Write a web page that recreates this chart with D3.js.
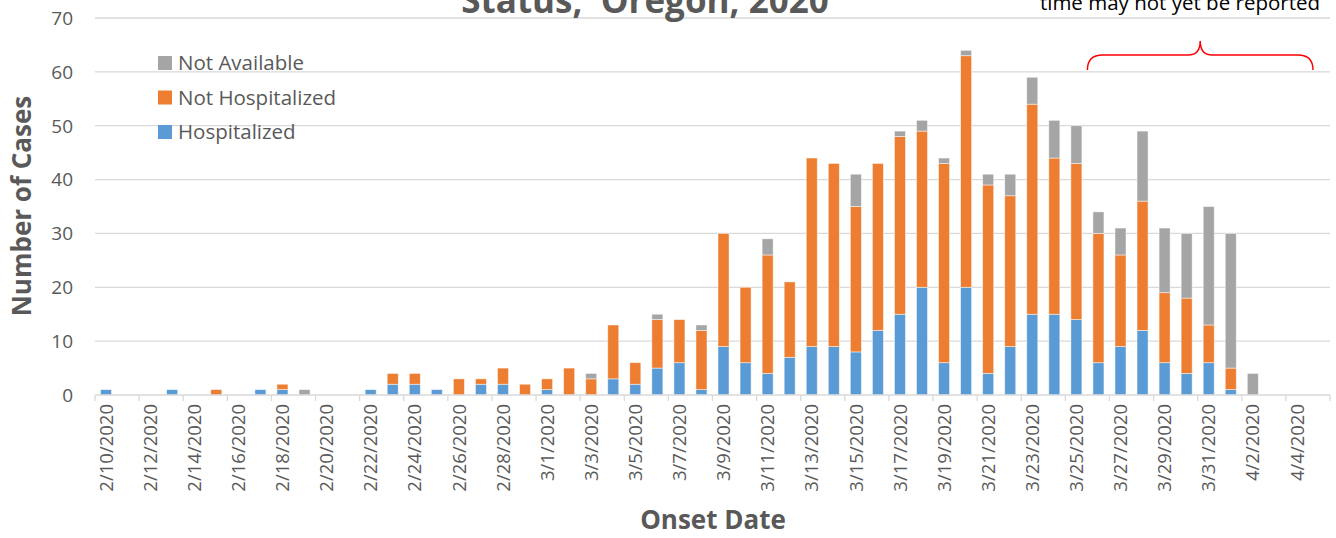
<!DOCTYPE html>
<html>
<head>
<meta charset="utf-8">
<script src="https://cdn.jsdelivr.net/npm/d3@7"></script>
<style>
  body { margin: 0; background: #fff; }
  svg { display: block; font-family: "Open Sans", "Noto Sans", sans-serif; }
</style>
</head>
<body>
<svg id="chart" width="1336" height="538"></svg>
<script>
// onset dates, 2/10/2020 .. 4/5/2020 (one category per day)
const dates = [
  "2/10/2020", "2/11/2020", "2/12/2020", "2/13/2020", "2/14/2020", "2/15/2020", "2/16/2020",
  "2/17/2020", "2/18/2020", "2/19/2020", "2/20/2020", "2/21/2020", "2/22/2020", "2/23/2020",
  "2/24/2020", "2/25/2020", "2/26/2020", "2/27/2020", "2/28/2020", "2/29/2020", "3/1/2020",
  "3/2/2020", "3/3/2020", "3/4/2020", "3/5/2020", "3/6/2020", "3/7/2020", "3/8/2020",
  "3/9/2020", "3/10/2020", "3/11/2020", "3/12/2020", "3/13/2020", "3/14/2020", "3/15/2020",
  "3/16/2020", "3/17/2020", "3/18/2020", "3/19/2020", "3/20/2020", "3/21/2020", "3/22/2020",
  "3/23/2020", "3/24/2020", "3/25/2020", "3/26/2020", "3/27/2020", "3/28/2020", "3/29/2020",
  "3/30/2020", "3/31/2020", "4/1/2020", "4/2/2020", "4/3/2020", "4/4/2020", "4/5/2020"
];

const hospitalized = [
  1, 0, 0, 1, 0, 0, 0, 1, 1, 0, 0, 0, 1, 2, 2, 1, 0, 2, 2, 0, 1,
  0, 0, 3, 2, 5, 6, 1, 9, 6, 4, 7, 9, 9, 8, 12, 15, 20, 6, 20, 4,
  9, 15, 15, 14, 6, 9, 12, 6, 4, 6, 1, 0, 0, 0, 0
];

const notHospitalized = [
  0, 0, 0, 0, 0, 1, 0, 0, 1, 0, 0, 0, 0, 2, 2, 0, 3, 1, 3, 2, 2,
  5, 3, 10, 4, 9, 8, 11, 21, 14, 22, 14, 35, 34, 27, 31, 33, 29, 37, 43, 35,
  28, 39, 29, 29, 24, 17, 24, 13, 14, 7, 4, 0, 0, 0, 0
];

const notAvailable = [
  0, 0, 0, 0, 0, 0, 0, 0, 0, 1, 0, 0, 0, 0, 0, 0, 0, 0, 0, 0, 0,
  0, 1, 0, 0, 1, 0, 1, 0, 0, 3, 0, 0, 0, 6, 0, 1, 2, 1, 1, 2,
  4, 5, 7, 7, 4, 5, 13, 12, 12, 22, 25, 4, 0, 0, 0
];

const yTicks = [0, 10, 20, 30, 40, 50, 60, 70];

const seriesKeys = ["Hospitalized", "Not Hospitalized", "Not Available"];
const colors = { "Hospitalized": "#5b9bd5", "Not Hospitalized": "#ed7d31", "Not Available": "#a5a5a5" };

const rows = dates.map((d, i) => ({
  date: d,
  "Hospitalized": hospitalized[i],
  "Not Hospitalized": notHospitalized[i],
  "Not Available": notAvailable[i]
}));

const svg = d3.select("#chart");
const plotLeft = 95, plotRight = 1330, plotTop = 18, plotBottom = 395;
const textGrey = "#595959";

const x = d3.scaleBand()
  .domain(dates)
  .range([plotLeft, plotRight])
  .paddingInner(0.5)
  .paddingOuter(0.25);

const y = d3.scaleLinear().domain([0, 70]).range([plotBottom, plotTop]);

// gridlines
svg.append("g")
  .selectAll("line")
  .data(yTicks.filter(t => t > 0))
  .join("line")
  .attr("x1", plotLeft).attr("x2", plotRight)
  .attr("y1", d => y(d)).attr("y2", d => y(d))
  .attr("stroke", "#d9d9d9").attr("stroke-width", 1.3);

// y tick labels
svg.append("g")
  .selectAll("text")
  .data(yTicks)
  .join("text")
  .attr("x", 73)
  .attr("y", d => y(d))
  .attr("dy", "0.36em")
  .attr("text-anchor", "end")
  .attr("font-size", 19)
  .attr("fill", textGrey)
  .text(d => d);

// stacked bars
const stacked = d3.stack().keys(seriesKeys)(rows);
svg.append("g")
  .selectAll("g")
  .data(stacked)
  .join("g")
  .attr("fill", d => colors[d.key])
  .selectAll("rect")
  .data(d => d.filter(s => s[1] > s[0]))
  .join("rect")
  .attr("x", d => x(d.data.date))
  .attr("width", x.bandwidth())
  .attr("y", d => y(d[1]))
  .attr("height", d => y(d[0]) - y(d[1]))
  .attr("stroke", "#ffffff")
  .attr("stroke-opacity", 0.6)
  .attr("stroke-width", 0.8);

// x axis line and tick marks between every second category
svg.append("line")
  .attr("x1", plotLeft).attr("x2", plotRight)
  .attr("y1", plotBottom).attr("y2", plotBottom)
  .attr("stroke", "#d9d9d9").attr("stroke-width", 1.3);

const gap = (x.step() - x.bandwidth()) / 2;
const tickPos = dates.filter((d, i) => i % 2 === 0).map(d => x(d) - gap);
tickPos.push(plotRight);
svg.append("g")
  .selectAll("line")
  .data(tickPos)
  .join("line")
  .attr("x1", d => d).attr("x2", d => d)
  .attr("y1", plotBottom).attr("y2", plotBottom + 6)
  .attr("stroke", "#d9d9d9").attr("stroke-width", 1.3);

// x tick labels, every second date
svg.append("g")
  .selectAll("text")
  .data(dates.filter((d, i) => i % 2 === 0))
  .join("text")
  .attr("transform", d => `translate(${x(d) + x.bandwidth() / 2},404) rotate(-90)`)
  .attr("dy", "0.36em")
  .attr("text-anchor", "end")
  .attr("font-size", 18.5)
  .attr("fill", textGrey)
  .text(d => d);

// axis titles
svg.append("text")
  .attr("transform", "translate(22,206) rotate(-90)")
  .attr("dy", "0.36em")
  .attr("text-anchor", "middle")
  .attr("font-size", 26)
  .attr("font-weight", "bold")
  .attr("fill", textGrey)
  .text("Number of Cases");

svg.append("text")
  .attr("x", 713)
  .attr("y", 529)
  .attr("text-anchor", "middle")
  .attr("font-size", 26)
  .attr("font-weight", "bold")
  .attr("fill", textGrey)
  .text("Onset Date");

// chart title (first line is cut off above the frame)
svg.append("text")
  .attr("x", 645)
  .attr("y", 13)
  .attr("text-anchor", "middle")
  .attr("font-size", 35)
  .attr("font-weight", "bold")
  .attr("fill", textGrey)
  .attr("xml:space", "preserve")
  .text("Status,  Oregon, 2020");

// legend
const legendOrder = ["Not Available", "Not Hospitalized", "Hospitalized"];
const legend = svg.append("g")
  .selectAll("g")
  .data(legendOrder)
  .join("g")
  .attr("transform", (d, i) => `translate(158,${63 + i * 34.5})`);
legend.append("rect")
  .attr("x", 0).attr("y", -7)
  .attr("width", 14).attr("height", 14)
  .attr("fill", d => colors[d]);
legend.append("text")
  .attr("x", 20)
  .attr("dy", "0.36em")
  .attr("font-size", 20.5)
  .attr("fill", textGrey)
  .text(d => d);

// note about recent onsets
svg.append("text")
  .attr("x", 1320)
  .attr("y", 10)
  .attr("text-anchor", "end")
  .attr("font-size", 20.5)
  .attr("fill", "#000")
  .text("time may not yet be reported");

// red curly brace over the last days
const bx0 = x("3/26/2020") - gap, bx1 = plotRight - 17;
const bmid = (bx0 + bx1) / 2;
const brace = d3.path();
brace.moveTo(bx0, 70);
brace.quadraticCurveTo(bx0, 55, bx0 + 15, 55);
brace.lineTo(bmid - 12, 55);
brace.quadraticCurveTo(bmid, 55, bmid, 41);
brace.quadraticCurveTo(bmid, 55, bmid + 12, 55);
brace.lineTo(bx1 - 15, 55);
brace.quadraticCurveTo(bx1, 55, bx1, 70);
svg.append("path")
  .attr("d", brace.toString())
  .attr("fill", "none")
  .attr("stroke", "#ff0000")
  .attr("stroke-width", 1.5);
</script>
</body>
</html>
